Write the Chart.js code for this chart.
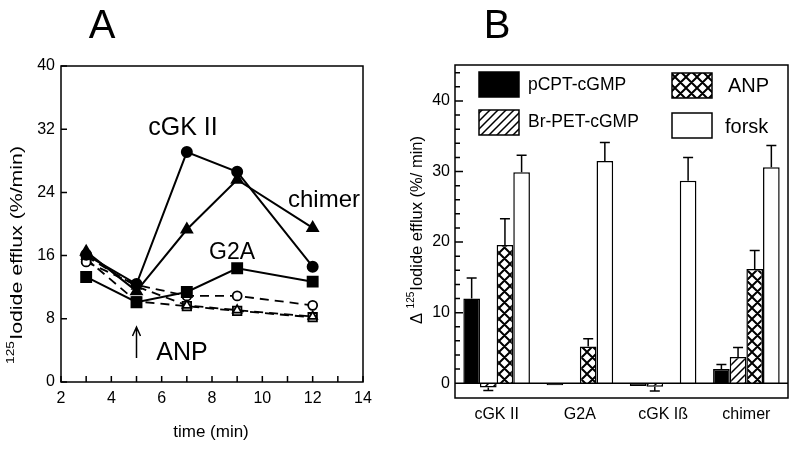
<!DOCTYPE html>
<html>
<head>
<meta charset="utf-8">
<script src="https://cdn.jsdelivr.net/npm/chart.js@4.4.1/dist/chart.umd.min.js"></script>
<style>
body{margin:0;background:#fff;width:800px;height:450px;overflow:hidden;font-family:"Liberation Sans",Arial,sans-serif}
.pan{position:absolute;top:0;width:400px;height:450px}
.lettera{position:absolute;font-size:40px;color:#000;transform:translate(-50%,-50%);line-height:1}
</style>
</head>
<body>
<div class="pan" style="left:0"><canvas id="graficoA" width="400" height="450"></canvas></div>
<div class="pan" style="left:400px"><canvas id="graficoB" width="400" height="450"></canvas></div>
<div class="lettera" style="left:102px;top:24px">A</div>
<div class="lettera" style="left:497px;top:24px">B</div>
<script>
// dati pannello A (tempo in minuti, efflusso %/min)
var tempi = [3, 5, 7, 9, 12];
var cgk2 = [16.1, 12.4, 29.1, 26.6, 14.6];
var chimer = [16.5, 11.5, 19.3, 25.6, 19.5];
var g2a = [13.3, 10.1, 11.4, 14.4, 12.7];
var cerchiVuoti = [15.2, 12.3, 10.9, 10.9, 9.7];
var triangoliVuoti = [15.9, 12.1, 9.7, 9.1, 8.3];
var quadratiVuoti = [15.6, 10.2, 9.6, 9.0, 8.2];
var tickX = [2, 4, 6, 8, 10, 12, 14];
var tickY = [0, 8, 16, 24, 32, 40];

// dati pannello B
var categorie = ["cGK II", "G2A", "cGK I\u00df", "chimer"];
var pcpt = [12.0, -0.3, -0.4, 2.0];
var pcptErr = [2.9, 0, 0, 0.65];
var brpet = [-0.6, null, -0.5, 3.7];
var brpetErr = [0.45, 0, 0.6, 1.35];
var anp = [19.6, 5.2, null, 16.2];
var anpErr = [3.7, 1.1, 0, 2.6];
var forsk = [29.9, 31.5, 28.7, 30.6];
var forskErr = [2.4, 2.6, 3.3, 3.1];

var FONT = '"Liberation Sans", Arial, sans-serif';
var NERO = "#000";

function punti(valori) {
    return tempi.map(function (t, i) { return { x: t, y: valori[i] }; });
}

function tratteggio(doppio) {
    var s = doppio ? 11 : 8;
    var c = document.createElement("canvas");
    c.width = s; c.height = s;
    var g = c.getContext("2d");
    g.fillStyle = "#fff";
    g.fillRect(0, 0, s, s);
    g.strokeStyle = NERO;
    g.lineWidth = doppio ? 2 : 1.5;
    g.beginPath();
    g.moveTo(-1, s + 1); g.lineTo(s + 1, -1);
    g.moveTo(-1, 1); g.lineTo(1, -1);
    g.moveTo(s - 1, s + 1); g.lineTo(s + 1, s - 1);
    if (doppio) {
        g.moveTo(-1, -1); g.lineTo(s + 1, s + 1);
        g.moveTo(s - 1, -1); g.lineTo(s + 1, 1);
        g.moveTo(-1, s - 1); g.lineTo(1, s + 1);
    }
    g.stroke();
    return g.createPattern(c, "repeat");
}

// titolo asse verticale con apice "125"
function titoloY(ctx, cx, cy, prima, testo, dim, lunghezza) {
    ctx.save();
    ctx.translate(cx, cy);
    ctx.rotate(-Math.PI / 2);
    ctx.fillStyle = NERO;
    ctx.textBaseline = "middle";
    ctx.font = dim + "px " + FONT;
    var w0 = ctx.measureText(prima).width;
    var w2 = ctx.measureText(testo).width;
    ctx.font = Math.round(dim * 0.62) + "px " + FONT;
    var w1 = ctx.measureText("125").width;
    var tot = w0 + w1 + w2 + 1;
    var k = lunghezza / tot;
    ctx.scale(k, 1);
    var x = -tot / 2;
    ctx.textAlign = "left";
    ctx.font = dim + "px " + FONT;
    ctx.fillText(prima, x, 0);
    x += w0;
    ctx.font = Math.round(dim * 0.62) + "px " + FONT;
    ctx.fillText("125", x, -dim * 0.35);
    x += w1 + 1;
    ctx.font = dim + "px " + FONT;
    ctx.fillText(testo, x, 0);
    ctx.restore();
}

var cornicePluginA = {
    id: "corniceA",
    afterDraw: function (chart) {
        var ctx = chart.ctx, a = chart.chartArea;
        var sx = chart.scales.x, sy = chart.scales.y;
        ctx.save();
        ctx.strokeStyle = NERO;
        ctx.lineWidth = 1.5;
        ctx.strokeRect(a.left, a.top, a.right - a.left, a.bottom - a.top);
        ctx.beginPath();
        for (var v = sx.min; v <= sx.max; v++) {
            var px = sx.getPixelForValue(v);
            ctx.moveTo(px, a.bottom); ctx.lineTo(px, a.bottom - 6);
        }
        tickY.forEach(function (t) {
            var py = sy.getPixelForValue(t);
            ctx.moveTo(a.left, py); ctx.lineTo(a.left + 6, py);
        });
        // freccia ANP
        var fx = sx.getPixelForValue(5);
        ctx.moveTo(fx, 358); ctx.lineTo(fx, 328);
        ctx.moveTo(fx - 4, 336); ctx.lineTo(fx, 327); ctx.lineTo(fx + 4, 336);
        ctx.stroke();
        ctx.fillStyle = NERO;
        ctx.textAlign = "center";
        ctx.textBaseline = "middle";
        ctx.font = "25px " + FONT;
        ctx.fillText("cGK II", 183, 128);
        ctx.fillText("ANP", 182, 353);
        ctx.font = "24px " + FONT;
        ctx.fillText("chimer", 324, 200);
        ctx.font = "23px " + FONT;
        ctx.fillText("G2A", 232, 253);
        ctx.font = "17px " + FONT;
        ctx.fillText("time (min)", 211, 432);
        titoloY(ctx, 17, 255, "", "Iodide efflux (%/min)", 17, 218);
        ctx.restore();
    }
};

var corniceB = {
    id: "corniceB",
    afterDatasetsDraw: function (chart) {
        var ctx = chart.ctx, a = chart.chartArea;
        var sx = chart.scales.x, sy = chart.scales.y;
        ctx.save();
        ctx.strokeStyle = NERO;
        ctx.lineWidth = 1.5;
        // barre di errore
        var errori = [pcptErr, brpetErr, anpErr, forskErr];
        chart.data.datasets.forEach(function (ds, d) {
            var meta = chart.getDatasetMeta(d);
            meta.data.forEach(function (bar, i) {
                var v = ds.data[i];
                if (v === null || !errori[d][i]) return;
                var fine = v >= 0 ? v + errori[d][i] : v - errori[d][i];
                var y0 = sy.getPixelForValue(v), y1 = sy.getPixelForValue(fine);
                ctx.beginPath();
                ctx.moveTo(bar.x, y0); ctx.lineTo(bar.x, y1);
                ctx.moveTo(bar.x - 5, y1); ctx.lineTo(bar.x + 5, y1);
                ctx.stroke();
            });
        });
        ctx.strokeRect(a.left, a.top, a.right - a.left, a.bottom - a.top);
        var y0 = sy.getPixelForValue(0);
        ctx.beginPath();
        ctx.moveTo(a.left, y0); ctx.lineTo(a.right, y0);
        for (var v = 0; v <= 44; v += 2) {
            var py = sy.getPixelForValue(v);
            ctx.moveTo(a.left, py); ctx.lineTo(a.left + (v % 10 === 0 ? 8 : 5), py);
        }
        ctx.stroke();
        // legenda
        var voci = [
            [79, 72, "pCPT-cGMP", 128, 85, 17.5],
            [79, 110, "Br-PET-cGMP", 128, 122, 17.5],
            [272, 73, "ANP", 328, 86, 20],
            [272, 113, "forsk", 325, 127, 20]
        ];
        ctx.textAlign = "left";
        ctx.textBaseline = "middle";
        voci.forEach(function (vc, d) {
            ctx.fillStyle = chart.data.datasets[d].backgroundColor;
            ctx.fillRect(vc[0], vc[1], 40, 25);
            ctx.strokeRect(vc[0], vc[1], 40, 25);
            ctx.fillStyle = NERO;
            ctx.font = vc[5] + "px " + FONT;
            ctx.fillText(vc[2], vc[3], vc[4]);
        });
        titoloY(ctx, 17, 230, "\u0394 ", "Iodide efflux (%/ min)", 16.5, 188);
        ctx.restore();
    }
};

var tickFont = { family: FONT, size: 16 };

new Chart(document.getElementById("graficoA").getContext("2d"), {
    type: "line",
    data: {
        datasets: [
            { data: punti(cgk2), borderColor: NERO, backgroundColor: NERO, pointStyle: "circle", pointRadius: 5, borderWidth: 2 },
            { data: punti(chimer), borderColor: NERO, backgroundColor: NERO, pointStyle: "triangle", pointRadius: 6, borderWidth: 2 },
            { data: punti(g2a), borderColor: NERO, backgroundColor: NERO, pointStyle: "rect", pointRadius: 7, borderWidth: 2 },
            { data: punti(cerchiVuoti), borderColor: NERO, backgroundColor: "#fff", pointStyle: "circle", pointRadius: 4.5, borderWidth: 1.8, borderDash: [9, 6] },
            { data: punti(triangoliVuoti), borderColor: NERO, backgroundColor: "#fff", pointStyle: "triangle", pointRadius: 5, borderWidth: 1.8, borderDash: [9, 6] },
            { data: punti(quadratiVuoti), borderColor: NERO, backgroundColor: "#fff", pointStyle: "rect", pointRadius: 6, borderWidth: 1.8, borderDash: [9, 6] }
        ]
    },
    options: {
        responsive: false,
        animation: false,
        layout: { padding: { top: 66, right: 37, left: 0, bottom: 0 } },
        plugins: { legend: { display: false }, tooltip: { enabled: false } },
        scales: {
            x: {
                type: "linear", min: 2, max: 14,
                afterBuildTicks: function (s) { s.ticks = tickX.map(function (v) { return { value: v }; }); },
                afterFit: function (s) { s.height = 68; },
                grid: { display: false, drawTicks: false }, border: { display: false },
                ticks: { font: tickFont, color: NERO, padding: 7, maxRotation: 0 }
            },
            y: {
                min: 0, max: 40,
                afterBuildTicks: function (s) { s.ticks = tickY.map(function (v) { return { value: v }; }); },
                afterFit: function (s) { s.width = 61; },
                grid: { display: false, drawTicks: false }, border: { display: false },
                ticks: { font: tickFont, color: NERO, padding: 6 }
            }
        }
    },
    plugins: [cornicePluginA]
});

new Chart(document.getElementById("graficoB").getContext("2d"), {
    type: "bar",
    data: {
        labels: categorie,
        datasets: [
            { label: "pCPT-cGMP", data: pcpt, backgroundColor: NERO },
            { label: "Br-PET-cGMP", data: brpet, backgroundColor: tratteggio(false) },
            { label: "ANP", data: anp, backgroundColor: tratteggio(true) },
            { label: "forsk", data: forsk, backgroundColor: "#fff" }
        ]
    },
    options: {
        responsive: false,
        animation: false,
        layout: { padding: { top: 65, right: 12, left: 0, bottom: 0 } },
        datasets: { bar: { borderColor: NERO, borderWidth: 1.5, categoryPercentage: 0.8, barPercentage: 1.0 } },
        plugins: { legend: { display: false }, tooltip: { enabled: false } },
        scales: {
            x: {
                afterFit: function (s) { s.height = 52; },
                grid: { display: false, drawTicks: false }, border: { display: false },
                ticks: { font: tickFont, color: NERO, padding: 7 }
            },
            y: {
                min: -2.1, max: 45.1,
                afterBuildTicks: function (s) { s.ticks = [0, 10, 20, 30, 40].map(function (v) { return { value: v }; }); },
                afterFit: function (s) { s.width = 55; },
                grid: { display: false, drawTicks: false }, border: { display: false },
                ticks: { font: tickFont, color: NERO, padding: 5 }
            }
        }
    },
    plugins: [corniceB]
});
</script>
</body>
</html>
